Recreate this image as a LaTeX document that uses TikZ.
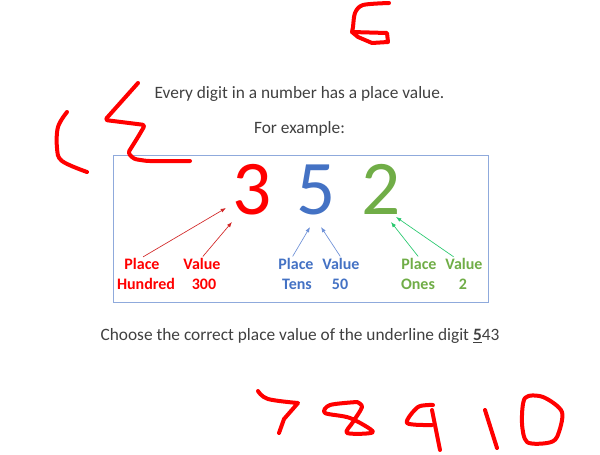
\documentclass[tikz,border=0pt]{standalone}
\usepackage{fontspec}
\setmainfont{Carlito}
\usetikzlibrary{arrows.meta}
\definecolor{hundredred}{RGB}{255,0,0}
\definecolor{tensblue}{RGB}{68,114,196}
\definecolor{onesgreen}{RGB}{112,173,71}
\definecolor{redline}{RGB}{210,40,40}
\definecolor{blueline}{RGB}{110,145,215}
\definecolor{greenline}{RGB}{40,200,110}
\definecolor{boxblue}{RGB}{143,170,220}
\definecolor{bodygray}{RGB}{64,64,64}
\definecolor{scribred}{RGB}{255,0,0}

\begin{document}
\begin{tikzpicture}[x=0.75pt,y=-0.75pt,
    digit/.style={font=\fontsize{58}{58}\selectfont,inner sep=0pt,anchor=base},
    plabel/.style={font=\fontsize{12}{14}\selectfont\bfseries,inner sep=0pt,anchor=base},
    body/.style={font=\fontsize{13}{15}\selectfont,text=bodygray,inner sep=0pt,anchor=base},
    pointer/.style={-{Latex[length=4pt,width=3pt]},line width=0.5pt,shorten <=1pt},
    scribble/.style={draw=scribred,line width=3pt,line cap=round,line join=round}
  ]
  \useasboundingbox (0,0) rectangle (600,454);

  % the texts
  \node[body] (intro) at (299.5,98) {Every digit in a number has a place value.};
  \node[body] (forex) at (299.5,133) {For example:};
  \node[body] (question) at (300,340) {Choose the correct place value of the underline digit \textbf{\underline{5}}43};

  % the example box
  \draw[boxblue,line width=0.75pt] (113,155) rectangle (488,302);

  % the digits
  \foreach \d/\x/\c in {3/252/hundredred,5/316/tensblue,2/381/onesgreen}
    \node[digit,text=\c] (d\d) at (\x,214) {\d};

  % the labels under the digits
  \foreach \n/\c/\px/\vx/\nx/\mx/\name/\num in
      {h/hundredred/142/202/146/204/Hundred/300,
       t/tensblue/296/341/297/340/Tens/50,
       o/onesgreen/419/464/418/463/Ones/2}
  {
    \node[plabel,text=\c] (\n place) at (\px,269) {Place};
    \node[plabel,text=\c] (\n value) at (\vx,269) {Value};
    \node[plabel,text=\c] (\n name) at (\nx,289) {\name};
    \node[plabel,text=\c] (\n num) at (\mx,289) {\num};
  }

  % the arrow tips
  \coordinate (h1) at (226,208);
  \coordinate (h2) at (232,222);
  \coordinate (t1) at (310,227);
  \coordinate (t2) at (321,227);
  \coordinate (o1) at (391,222);
  \coordinate (o2) at (396,217);

  % the arrows
  \draw[pointer,redline] (hplace.north) -- (h1);
  \draw[pointer,redline] (hvalue.north) -- (h2);
  \draw[pointer,blueline] ([xshift=-3pt]tplace.north) -- (t1);
  \draw[pointer,blueline] (tvalue.north) -- (t2);
  \draw[pointer,greenline] (oplace.north) -- (o1);
  \draw[pointer,greenline] ([xshift=-7pt]ovalue.north) -- (o2);

  % the hand-written marks
  \draw[scribble] plot[smooth,tension=0.5] coordinates {(389,3) (363,5) (355,13) (353,27) (352,32)}
    -- (387,33) -- (388,42) -- (372,43) -- (358,37) -- (352,32);
  \draw[scribble] plot[smooth,tension=0.6] coordinates {(67,112) (58,127) (57,148) (62,161) (87,172)};
  \draw[scribble,rounded corners=2pt] (138,83) -- (105,120) -- (145,125) -- (138,137) -- (128,153)
    -- (134,159) -- (147,161) -- (190,161);
  \draw[scribble] plot[smooth,tension=0.6] coordinates {(258,391) (268,399) (298,403)}
    -- (284,419) -- (279,433);
  \draw[scribble] plot[smooth,tension=0.5] coordinates {(357,402) (330,405) (325,413) (350,418)
    (373,432) (347,433) (353,422) (362,407) (357,402)};
  \draw[scribble] plot[smooth,tension=0.5] coordinates {(433,405) (418,407) (407,423) (432,425)};
  \draw[scribble] (432,410) -- (436,430) -- (440,450);
  \draw[scribble] (485,410) -- (497,448);
  \draw[scribble] plot[smooth cycle,tension=0.5] coordinates {(525,398) (543,397) (562,412)
    (557,437) (547,443) (527,442) (522,423)};
\end{tikzpicture}
\end{document}
